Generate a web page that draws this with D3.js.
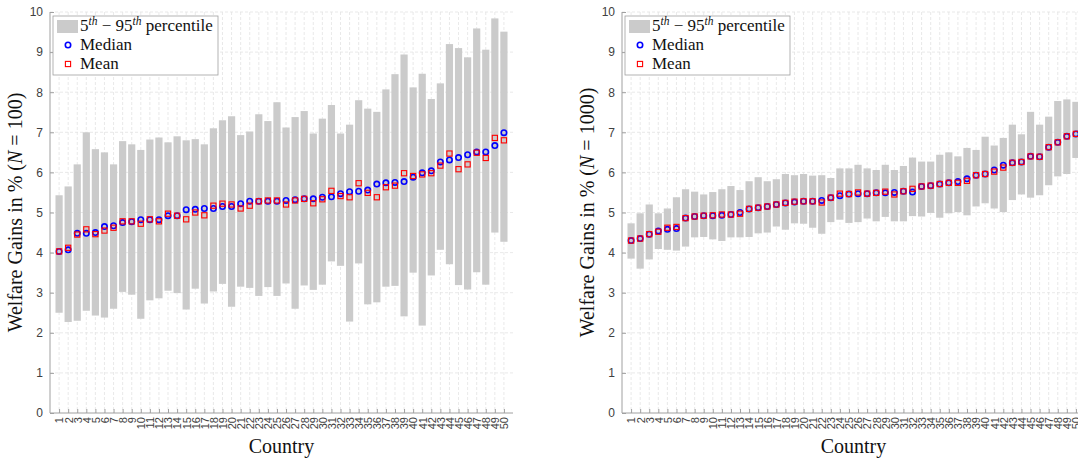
<!DOCTYPE html>
<html><head><meta charset="utf-8">
<script src="https://cdn.jsdelivr.net/npm/d3@7"></script>
<style>body{margin:0;background:#fff}svg{display:block}</style>
</head><body><svg id="c" width="1078" height="459"></svg>
<script>
const countries = d3.range(1, 51);
const yTicks = [0,1,2,3,4,5,6,7,8,9,10];

// Left panel (N = 100)
const p5_100  = [2.5,2.27,2.3,2.55,2.43,2.38,2.6,3.02,2.95,2.35,2.81,2.86,3.05,2.99,2.58,3.1,2.73,3.03,3.22,2.65,3.15,3.12,2.92,3.14,2.92,3.23,2.6,3.18,3.07,3.2,3.78,3.67,2.28,3.73,2.71,2.76,3.15,3.17,2.41,3.5,2.18,3.43,4.07,3.71,3.19,3.08,3.51,3.2,4.5,4.27];
const p95_100 = [5.43,5.65,6.2,7.0,6.58,6.5,6.2,6.78,6.7,6.56,6.82,6.87,6.75,6.9,6.8,6.83,6.7,7.1,7.3,7.4,6.93,7.02,7.45,7.28,7.75,7.12,7.38,7.53,6.97,7.34,7.68,6.97,7.19,7.8,7.59,7.51,8.07,8.45,8.94,8.12,8.46,7.83,8.22,9.2,9.1,8.87,9.59,9.06,9.84,9.51];
const median_100 = [4.03,4.07,4.48,4.48,4.5,4.65,4.67,4.75,4.77,4.82,4.82,4.82,4.92,4.92,5.07,5.08,5.1,5.1,5.15,5.15,5.22,5.28,5.28,5.28,5.28,5.3,5.32,5.34,5.34,5.38,5.39,5.47,5.52,5.53,5.56,5.71,5.74,5.75,5.77,5.88,5.99,6.04,6.26,6.31,6.37,6.44,6.51,6.51,6.67,6.99];
const mean_100 = [4.03,4.12,4.45,4.58,4.46,4.55,4.62,4.78,4.78,4.72,4.83,4.78,4.97,4.92,4.83,5.0,4.93,5.17,5.22,5.2,5.1,5.17,5.28,5.3,5.3,5.2,5.3,5.34,5.23,5.33,5.54,5.41,5.38,5.73,5.49,5.38,5.63,5.67,5.98,5.91,5.95,5.98,6.17,6.47,6.08,6.2,6.49,6.36,6.86,6.8];

// Right panel (N = 1000)
const p5_1000  = [3.85,3.6,3.83,4.09,4.07,4.05,4.15,4.38,4.39,4.33,4.29,4.38,4.38,4.39,4.48,4.5,4.65,4.57,4.73,4.72,4.62,4.47,4.76,4.82,4.74,4.76,4.85,4.78,4.89,4.78,4.78,4.91,4.9,4.99,4.87,4.98,5.01,4.93,5.15,5.23,5.1,5.01,5.31,5.45,5.37,5.43,5.68,5.9,5.96,6.36];
const p95_1000 = [4.73,4.98,5.2,4.98,5.1,5.38,5.58,5.52,5.45,5.51,5.58,5.66,5.56,5.78,5.88,5.78,5.83,5.96,5.93,5.96,5.92,5.93,5.86,6.1,6.1,6.19,6.1,6.06,6.19,6.06,6.16,6.37,6.27,6.27,6.44,6.5,6.4,6.61,6.56,6.89,6.67,6.86,7.19,6.95,7.51,7.19,7.39,7.78,7.82,7.76];
const median_1000 = [4.3,4.35,4.46,4.54,4.58,4.6,4.86,4.9,4.92,4.92,4.93,4.95,5.0,5.09,5.12,5.15,5.2,5.24,5.26,5.28,5.28,5.3,5.37,5.42,5.46,5.47,5.47,5.49,5.49,5.5,5.53,5.51,5.65,5.67,5.71,5.74,5.77,5.84,5.93,5.96,6.06,6.18,6.24,6.26,6.4,6.39,6.63,6.75,6.9,6.96];
const mean_1000 = [4.3,4.35,4.46,4.52,4.62,4.64,4.86,4.9,4.92,4.93,4.95,4.95,4.97,5.09,5.12,5.15,5.2,5.24,5.27,5.28,5.28,5.25,5.37,5.47,5.46,5.5,5.47,5.49,5.52,5.45,5.53,5.59,5.65,5.67,5.71,5.74,5.74,5.79,5.93,5.96,6.02,6.12,6.24,6.26,6.4,6.39,6.63,6.75,6.9,6.96];

const svg = d3.select("#c");
const serif = "'Liberation Serif', 'DejaVu Serif', serif";
const sans = "'Liberation Sans', Arial, sans-serif";

function panel(x0, p5, p95, med, mean, nLabel) {
  const W = 463, top = 12, bottom = 413;
  const x = d3.scaleLinear().domain([0, 51]).range([x0, x0 + W]);
  const y = d3.scaleLinear().domain([0, 10]).range([bottom, top]);
  const g = svg.append("g");

  // grid
  g.selectAll(".gx").data(countries).join("line")
    .attr("x1", d => x(d)).attr("x2", d => x(d)).attr("y1", top).attr("y2", bottom)
    .attr("stroke", "#e3e3e3").attr("stroke-width", 0.8).attr("stroke-dasharray", "3,2");
  g.selectAll(".gy").data(yTicks.slice(1)).join("line")
    .attr("x1", x0).attr("x2", x0 + W).attr("y1", d => y(d)).attr("y2", d => y(d))
    .attr("stroke", "#e3e3e3").attr("stroke-width", 0.8).attr("stroke-dasharray", "3,2");

  // bars
  g.selectAll(".bar").data(countries).join("rect")
    .attr("x", d => x(d) - 3.6).attr("width", 7.2)
    .attr("y", (d, i) => y(p95[i])).attr("height", (d, i) => y(p5[i]) - y(p95[i]))
    .attr("fill", "#cbcbcb");

  // axes
  const ya = d3.axisLeft(y).tickValues(yTicks).tickSize(-4).tickPadding(7).tickFormat(d3.format("d"));
  const yg = g.append("g").attr("transform", `translate(${x0},0)`).call(ya);
  const xa = d3.axisBottom(x).tickValues(countries).tickSize(-4).tickPadding(4);
  const xg = g.append("g").attr("transform", `translate(0,${bottom})`).call(xa);
  xg.select(".domain").attr("d", `M${x0},0H${x0 + W}`);
  yg.select(".domain").attr("d", `M0,${bottom}V${top}`);
  [xg, yg].forEach(a => {
    a.selectAll(".domain").attr("stroke", "#a0a0a0").attr("stroke-width", 1);
    a.selectAll(".tick line").attr("stroke", "#a0a0a0");
    a.selectAll(".tick text").attr("fill", "#404040").attr("font-family", sans).attr("font-size", 11);
  });
  yg.selectAll(".tick text").attr("font-size", 12);
  xg.selectAll(".tick text")
    .attr("transform", "rotate(-90)").attr("text-anchor", "end")
    .attr("x", -4).attr("y", 0).attr("dy", "0.35em");

  // markers
  g.selectAll(".med").data(countries).join("circle")
    .attr("cx", d => x(d)).attr("cy", (d, i) => y(med[i])).attr("r", 2.7)
    .attr("fill", "none").attr("stroke", "#0000ff").attr("stroke-width", 1.6);
  g.selectAll(".mean").data(countries).join("rect")
    .attr("x", d => x(d) - 2.6).attr("y", (d, i) => y(mean[i]) - 2.6)
    .attr("width", 5.2).attr("height", 5.2)
    .attr("fill", "none").attr("stroke", "#ff0000").attr("stroke-width", 1.1);

  // legend
  const lx = x0 + 3, ly = 16;
  const lg = g.append("g");
  lg.append("rect").attr("x", lx).attr("y", ly).attr("width", 165).attr("height", 59)
    .attr("fill", "#fff").attr("stroke", "#a0a0a0").attr("stroke-width", 0.8);
  lg.append("rect").attr("x", lx + 4).attr("y", ly + 4).attr("width", 21).attr("height", 13).attr("fill", "#cbcbcb");
  const t1 = lg.append("text").attr("x", lx + 27).attr("y", ly + 15)
    .attr("font-family", serif).attr("font-size", 17).attr("fill", "#111");
  t1.append("tspan").text("5");
  t1.append("tspan").attr("font-size", 11.5).attr("font-style", "italic").attr("dy", -6).text("th");
  t1.append("tspan").attr("dy", 6).text(" − 95");
  t1.append("tspan").attr("font-size", 11.5).attr("font-style", "italic").attr("dy", -6).text("th");
  t1.append("tspan").attr("dy", 6).text(" percentile");
  lg.append("circle").attr("cx", lx + 15).attr("cy", ly + 29).attr("r", 2.7)
    .attr("fill", "none").attr("stroke", "#0000ff").attr("stroke-width", 1.6);
  lg.append("text").attr("x", lx + 27).attr("y", ly + 34).attr("font-family", serif).attr("font-size", 17).attr("fill", "#111").text("Median");
  lg.append("rect").attr("x", lx + 12.4).attr("y", ly + 45.4).attr("width", 5.2).attr("height", 5.2)
    .attr("fill", "none").attr("stroke", "#ff0000").attr("stroke-width", 1.1);
  lg.append("text").attr("x", lx + 27).attr("y", ly + 53).attr("font-family", serif).attr("font-size", 17).attr("fill", "#111").text("Mean");

  // labels
  const yl = g.append("text").attr("transform", `translate(${x0 - 28},${(top + bottom) / 2}) rotate(-90)`)
    .attr("text-anchor", "middle").attr("font-family", serif).attr("font-size", 20).attr("fill", "#111");
  yl.append("tspan").text("Welfare Gains in % (");
  yl.append("tspan").attr("font-style", "italic").text("N");
  yl.append("tspan").text(` = ${nLabel})`);
  g.append("text").attr("x", x0 + W / 2).attr("y", 453).attr("text-anchor", "middle")
    .attr("font-family", serif).attr("font-size", 20).attr("fill", "#111").text("Country");
}

panel(50, p5_100, p95_100, median_100, mean_100, "100");
panel(622, p5_1000, p95_1000, median_1000, mean_1000, "1000");
</script></body></html>
